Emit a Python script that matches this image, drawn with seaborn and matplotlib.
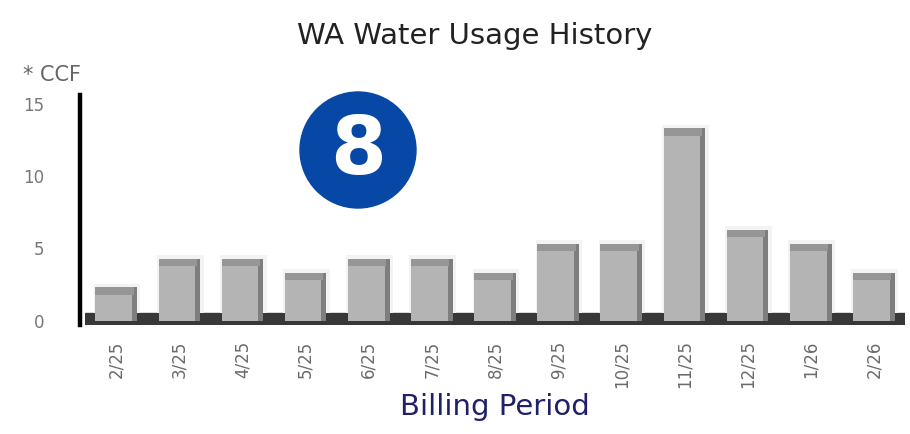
import matplotlib
matplotlib.use("Agg")
import matplotlib.pyplot as plt
from matplotlib.patches import Rectangle, Ellipse
import seaborn as sns

# billing periods and usage in CCF
periods = ["2/25", "3/25", "4/25", "5/25", "6/25", "7/25", "8/25",
           "9/25", "10/25", "11/25", "12/25", "1/26", "2/26"]
usage = [2, 4, 4, 3, 4, 4, 3, 5, 5, 13, 6, 5, 3]
y_ticks = [0, 5, 10, 15]

sns.set_style("white")
plt.rcParams["font.family"] = ["DejaVu Sans"]

fig = plt.figure(figsize=(9.1, 4.34), dpi=100)
ax = fig.add_axes([0.093, 0.251, 0.902, 0.530])

# dark floor behind the bars
ax.axhspan(-0.3, 0.55, color="#383838", zorder=0)

sns.barplot(x=periods, y=usage, color="#b4b4b4", saturation=1,
            width=0.66, edgecolor="none", ax=ax, zorder=2)

# fake 3D look: faint halo, darker right side and top lip, taken from the drawn bars
for p in ax.containers[0]:
    x, w, h = p.get_x(), p.get_width(), p.get_height()
    ax.add_patch(Rectangle((x - w * 0.04, 0.55), w * 1.12, h + 0.0,
                           color="#f3f3f3", zorder=1, lw=0))
    ax.add_patch(Rectangle((x + w * 0.88, 0), w * 0.12, h + 0.3,
                           color="#7e7e7e", zorder=3, lw=0))
    ax.add_patch(Rectangle((x, h - 0.2), w * 0.92, 0.5,
                           color="#969696", zorder=3, lw=0))

ax.set_ylim(-0.3, 15.6)
ax.set_xlim(-0.5, len(periods) - 0.5)
ax.set_yticks(y_ticks)
ax.tick_params(axis="y", length=0, pad=26, labelsize=12, labelcolor="#777777")
ax.tick_params(axis="x", length=0, pad=11, labelsize=12, labelcolor="#6a6a6a",
               rotation=90)

for s in ["top", "right", "bottom"]:
    ax.spines[s].set_visible(False)
ax.spines["left"].set_linewidth(3.2)
ax.spines["left"].set_color("black")
ax.spines["left"].set_position(("outward", 3))

ax.set_xlabel("Billing Period", fontsize=21, color="#1f2068", labelpad=3)
ax.set_ylabel("")

fig.text(0.522, 0.918, "WA Water Usage History", ha="center", va="center",
         fontsize=21, color="#222222")
fig.text(0.025, 0.827, "* CCF", ha="left", va="center",
         fontsize=15, color="#666666")

# blue badge with the number 8
fig.add_artist(Ellipse((358 / 910, 1 - 150 / 434), 116 / 910, 116 / 434,
                       transform=fig.transFigure, color="#0747a6", zorder=5))
fig.text(358 / 910, 1 - 152 / 434, "8", ha="center", va="center",
         fontsize=58, fontweight="bold", color="white", zorder=6)

fig.savefig("out.png", dpi=100)
